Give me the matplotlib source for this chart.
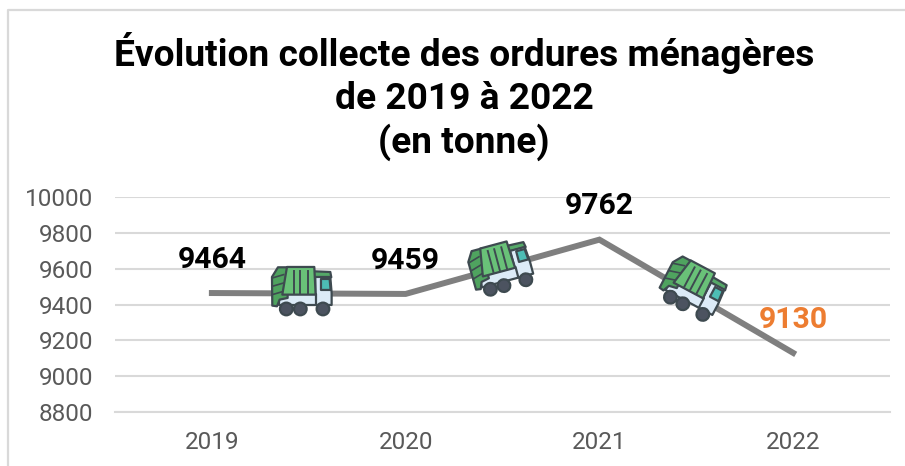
import matplotlib
matplotlib.use("Agg")
import matplotlib.pyplot as plt
from matplotlib.lines import Line2D
from matplotlib.patches import Polygon, Circle
from matplotlib.transforms import Affine2D

years = ["2019", "2020", "2021", "2022"]
tonnes = [9464, 9459, 9762, 9130]
label_colors = ["black", "black", "black", "#ED7D31"]
y_ticks = [8800, 9000, 9200, 9400, 9600, 9800, 10000]
title = "Évolution collecte des ordures ménagères\nde 2019 à 2022\n(en tonne)"
# truck anchor: (category position, value, rotation in degrees)
truck_x = [0.465, 1.49, 2.485]
truck_y = [9483, 9612, 9495]
truck_rot = [0, 15, -28]

W, H = 905, 466
plt.rcParams["font.family"] = ["Roboto", "DejaVu Sans"]
fig = plt.figure(figsize=(W / 100, H / 100), dpi=100)
ax = fig.add_axes([115 / W, 1 - 412 / H, 775 / W, 215 / H])
GRID = "#D9D9D9"
ax.set_xlim(-0.5, 3.5)
ax.set_ylim(8800, 10000)
ax.set_yticks(y_ticks)
ax.set_xticks(range(len(years)))
ax.set_xticklabels(years)
ax.grid(axis="y", color=GRID, lw=1.5)
ax.set_axisbelow(True)
for side in ["top", "right", "left"]:
    ax.spines[side].set_visible(False)
ax.spines["bottom"].set_color(GRID)
ax.spines["bottom"].set_linewidth(1.5)
ax.tick_params(length=0, labelsize=17.5, labelcolor="#595959")
ax.tick_params(axis="x", pad=14)
ax.tick_params(axis="y", pad=15.5)

ax.plot(range(len(years)), tonnes, color="#7F7F7F", lw=4.3, solid_joinstyle="miter", zorder=2)
for i, v in enumerate(tonnes):
    ax.annotate(str(v), (i, v), xytext=(0, 24), textcoords="offset points",
                ha="center", va="center", fontsize=21.7, fontweight="bold",
                color=label_colors[i], zorder=5)

fig.text(464 / W, 1 - 96.5 / H, title, ha="center", va="center", fontsize=26.7,
         fontweight="bold", color="black", linespacing=1.24)

# chart frame, cut off at the right and bottom of the picture
fig.add_artist(Line2D([8 / W, 8 / W, 1], [0, 1 - 10 / H, 1 - 10 / H], color=GRID, lw=1.6))


def draw_truck(cx, cy, rot):
    px, py = ax.transData.transform((cx, cy))
    # local shape units are 1/3 pixel, y down, origin at truck centre
    tr = (Affine2D().translate(-155, -180).scale(1 / 3, -1 / 3)
          .rotate_deg(rot).translate(px, py))
    dark = "#3E4A50"
    kw = dict(transform=tr, ec=dark, lw=1.6, joinstyle="round", zorder=4)
    # top strip over the cab
    ax.add_patch(Polygon([(190, 125), (240, 127), (243, 143), (190, 143)], fc="#55A868", **kw))
    # cab
    ax.add_patch(Polygon([(195, 142), (240, 142), (244, 190), (244, 226), (195, 226)], fc="#DCEBF7", **kw))
    ax.add_patch(Polygon([(212, 148), (238, 148), (241, 181), (212, 181)], fc="#4DBDB5", **kw))
    # bed
    ax.add_patch(Polygon([(85, 193), (198, 193), (198, 226), (85, 226)], fc="#DCEBF7", **kw))
    # hopper
    ax.add_patch(Polygon([(83, 113), (112, 113), (112, 205), (88, 210), (80, 230),
                          (66, 228), (65, 142)], fc="#4FA35F", **kw))
    for yy in (140, 165, 190):
        ax.add_line(Line2D([66, 100], [yy + 5, yy - 5], color=dark, lw=1.2, transform=tr, zorder=4))
    # container
    ax.add_patch(Polygon([(110, 112), (192, 112), (196, 195), (96, 195)], fc="#69C178", **kw))
    for xx in (130, 150, 172):
        ax.add_line(Line2D([xx, xx], [125, 190], color=dark, lw=1.4, transform=tr, zorder=4))
    # wheels
    for wx in (108, 150, 218):
        ax.add_patch(Circle((wx, 238), 19, fc="#4C5360", **kw))


for x, y, r in zip(truck_x, truck_y, truck_rot):
    draw_truck(x, y, r)

fig.savefig("out.png", dpi=100)
